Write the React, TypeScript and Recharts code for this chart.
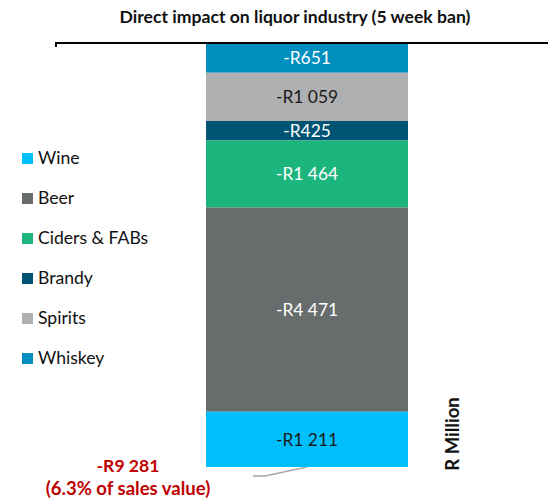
import React from "react";
import { BarChart, Bar, XAxis, YAxis, LabelList, Customized } from "recharts";

const categories = ["Direct impact"];
const seriesNames = ["Whiskey", "Spirits", "Brandy", "Ciders & FABs", "Beer", "Wine"];
const seriesValues = [-651, -1059, -425, -1464, -4471, -1211];
const seriesColors = ["#008FBF", "#AEB0B1", "#005473", "#1DB57E", "#686C6C", "#00BFFF"];
const labelColors = ["#FFFFFF", "#1A1A1A", "#FFFFFF", "#FFFFFF", "#FFFFFF", "#1A1A1A"];
const legendOrder = ["Wine", "Beer", "Ciders & FABs", "Brandy", "Spirits", "Whiskey"];
const title = "Direct impact on liquor industry (5 week ban)";
const totalLabel = "-R9 281";
const totalNote = "(6.3% of sales value)";
const unitLabel = "R Million";

const FONT = "Lato, 'Open Sans', sans-serif";

const data = categories.map((c) => {
  const row: Record<string, any> = { category: c };
  seriesNames.forEach((s, i) => {
    row[s] = seriesValues[i];
  });
  return row;
});
const total = seriesValues.reduce((a, b) => a + b, 0);

const fmt = (v: any) => {
  const n = Math.abs(Number(v));
  const s = String(n).replace(/\B(?=(\d{3})+(?!\d))/g, " ");
  return "-R" + s;
};

const Annotations = (props: any) => {
  const off = props.offset || { left: 55, top: 43 };
  return (
    <g>
      <line x1={off.left + 1} y1={off.top} x2={off.left + 1} y2={off.top + 4} stroke="#000" strokeWidth={2} />
      <polyline points="253,476 265,476 307,467" fill="none" stroke="#A6A6A6" strokeWidth={1.5} />
    </g>
  );
};

export default function App() {
  return (
    <div style={{ position: "absolute", left: 0, top: 0, width: 548, height: 500, background: "#fff", fontFamily: FONT }}>
      <svg width={548} height={500} style={{ position: "absolute", left: 0, top: 0 }}>
        <text x={295} y={23} textAnchor="middle" fontWeight="bold" fontSize={17.6} fill="#111" fontFamily={FONT}>
          {title}
        </text>
        {legendOrder.map((name, i) => {
          const y = 158 + i * 40;
          const idx = seriesNames.indexOf(name);
          return (
            <g key={name}>
              <rect x={22} y={y - 5} width={11} height={11} fill={seriesColors[idx]} />
              <text x={38} y={y + 6} fontSize={17.6} fill="#111" fontFamily={FONT}>
                {name}
              </text>
            </g>
          );
        })}
        <text x={128} y={472} textAnchor="middle" fontWeight="bold" fontSize={17.6} fill="#C00000" fontFamily={FONT}>
          {totalLabel}
        </text>
        <text x={128} y={495} textAnchor="middle" fontWeight="bold" fontSize={18.5} fill="#C00000" fontFamily={FONT}>
          {totalNote}
        </text>
        <text
          x={459}
          y={434}
          textAnchor="middle"
          fontWeight="bold"
          fontSize={18.5}
          fill="#111"
          fontFamily={FONT}
          transform="rotate(-90 459 434)"
        >
          {unitLabel}
        </text>
      </svg>
      <div style={{ position: "absolute", left: 0, top: 0 }}>
        <BarChart width={548} height={500} data={data} margin={{ top: 33, right: 0, bottom: 33, left: 55 }} barSize={202}>
          <XAxis
            dataKey="category"
            orientation="top"
            height={10}
            tick={false}
            tickLine={false}
            axisLine={{ stroke: "#000", strokeWidth: 2 }}
            padding={{ left: 11, right: 0 }}
          />
          <YAxis hide domain={[total, 0]} allowDataOverflow />
          {seriesNames.map((s, i) => (
            <Bar key={s} dataKey={s} stackId="a" fill={seriesColors[i]} isAnimationActive={false}>
              <LabelList
                dataKey={s}
                position="center"
                formatter={fmt}
                fill={labelColors[i]}
                fontSize={17.4}
                fontFamily={FONT}
              />
            </Bar>
          ))}
          <Customized component={Annotations} />
        </BarChart>
      </div>
    </div>
  );
}
